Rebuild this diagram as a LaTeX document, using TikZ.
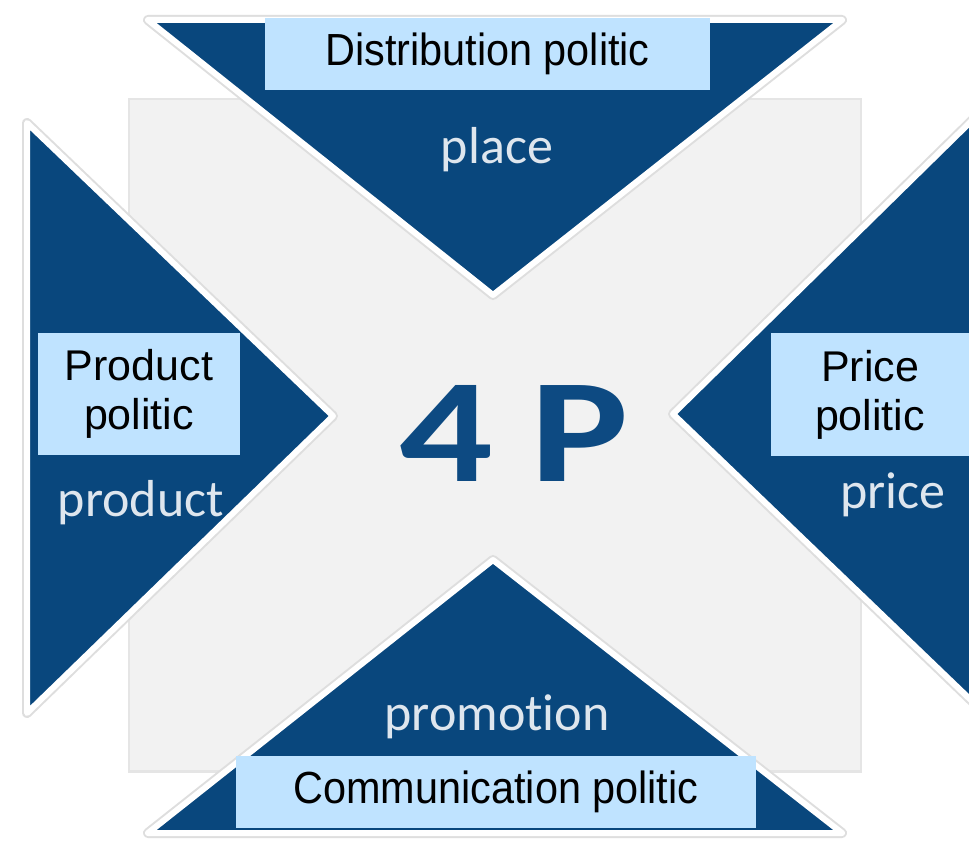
\documentclass[tikz,border=0pt]{standalone}
\usepackage{fontspec}
\setmainfont{Liberation Sans}
\newfontfamily\calfont[Ligatures=NoCommon]{Carlito}
\definecolor{darkblue}{RGB}{9,71,125}
\definecolor{pblue}{RGB}{13,74,130}
\definecolor{boxblue}{RGB}{191,227,255}
\definecolor{sqgray}{RGB}{242,242,242}
\definecolor{lbltxt}{RGB}{222,230,238}
\tikzset{
  tri/.style={fill=darkblue, draw=white, line width=6pt, line join=round},
  trishadow/.style={draw=black!13, line width=10pt, line join=round},
  polbox/.style={fill=boxblue, inner sep=0pt, text=black, align=center},
  plabel/.style={text=lbltxt, font=\calfont\fontsize{52}{56}\selectfont, inner sep=0pt}
}
\begin{document}
\begin{tikzpicture}[x=1pt,y=-1pt]
\useasboundingbox (0,0) rectangle (969,842);
\fill[white] (0,0) rectangle (969,842);
\begin{scope}
\clip (0,0) rectangle (969,842);
% central square
\fill[black!10] (128,98) rectangle (862,773);
\node[fill=sqgray, minimum width=730pt, minimum height=670pt, inner sep=0pt] (sq) at (495,435) {};
% shadows
\draw[trishadow] (148,20) -- (842,20) -- (493,295) -- cycle;
\draw[trishadow] (27,123) -- (27,713) -- (333,416) -- cycle;
\draw[trishadow] (673,414) -- (1000,93) -- (1000,728) -- cycle;
\draw[trishadow] (493,560) -- (148,833) -- (842,833) -- cycle;
% triangles
\draw[tri] (148,20) -- (842,20) -- (493,295) -- cycle;
\draw[tri] (27,123) -- (27,713) -- (333,416) -- cycle;
\draw[tri] (673,414) -- (1000,93) -- (1000,728) -- cycle;
\draw[tri] (493,560) -- (148,833) -- (842,833) -- cycle;
\end{scope}
% labels in triangles
\node[plabel] (place) at (497,150) {place};
\node[plabel] (product) at (141,503) {product};
\node[plabel] (price) at (893,495) {price};
\node[plabel] (promotion) at (497,717) {promotion};
% 4P
\node[text=pblue, font=\calfont\bfseries\fontsize{148}{150}\selectfont, inner sep=0pt] (fourp) at (514,433)
  {\scalebox{1.25}[1]{4\hspace{0.2em}P}};
% boxes
\node[polbox, minimum width=445pt, minimum height=72pt, font=\fontsize{45}{50}\selectfont] (dist) at (487.5,54)
  {\scalebox{0.92}[1]{Distribution politic}};
\node[polbox, minimum width=202pt, minimum height=122pt, font=\fontsize{43}{49}\selectfont] (prod) at (139,394)
  {Product\\ politic};
\node[polbox, minimum width=198pt, minimum height=123pt, font=\fontsize{43}{49}\selectfont] (pric) at (870,394.5)
  {Price\\ politic};
\node[polbox, minimum width=520pt, minimum height=72pt, font=\fontsize{45}{50}\selectfont] (comm) at (496,792)
  {\scalebox{0.92}[1]{Communication politic}};
\end{tikzpicture}
\end{document}
